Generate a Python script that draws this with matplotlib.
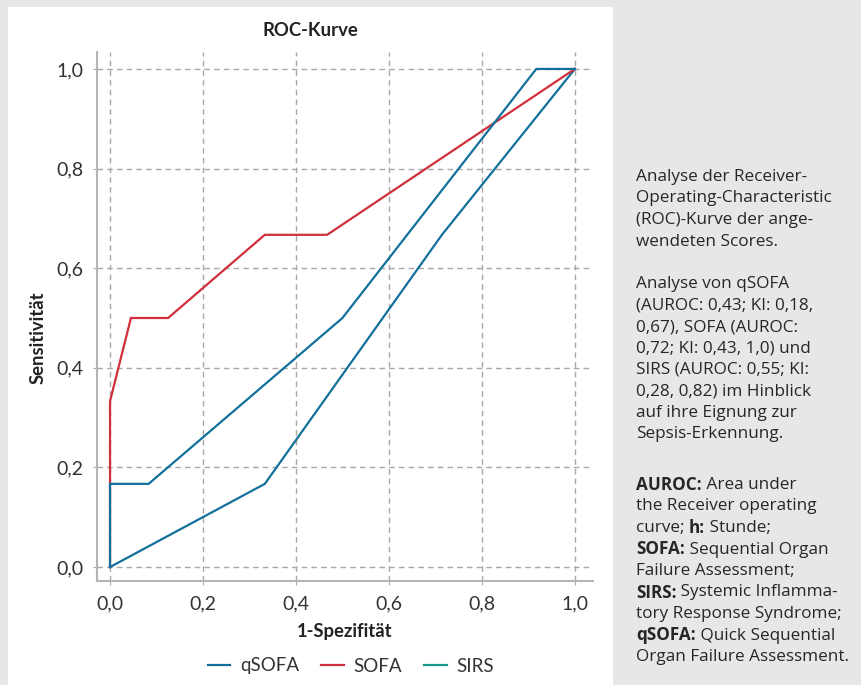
import matplotlib
matplotlib.use("Agg")
import matplotlib.pyplot as plt
from matplotlib.patches import Rectangle
from matplotlib.lines import Line2D
from matplotlib.ticker import FuncFormatter
from matplotlib.transforms import IdentityTransform

plt.rcParams['font.family'] = ['Lato', 'DejaVu Sans']

# ROC curves (1-Spezifitaet, Sensitivitaet)
qsofa_x = [0.0, 0.333, 0.714, 1.0]
qsofa_y = [0.0, 0.167, 0.667, 1.0]
sofa_x = [0.0, 0.0, 0.045, 0.125, 0.333, 0.467, 1.0]
sofa_y = [0.0, 0.333, 0.5, 0.5, 0.667, 0.667, 1.0]
sirs_x = [0.0, 0.0, 0.083, 0.5, 0.917, 1.0]
sirs_y = [0.0, 0.167, 0.167, 0.5, 1.0, 1.0]

series_names = ['qSOFA', 'SOFA', 'SIRS']
line_colors = ['#13709c', '#d12f3b', '#13709c']
legend_colors = ['#13709c', '#d12f3b', '#17998a']
ticks = [0.0, 0.2, 0.4, 0.6, 0.8, 1.0]

caption = [
    [[("Analyse der Receiver-", False)],
     [("Operating-Characteristic", False)],
     [("(ROC)-Kurve der ange-", False)],
     [("wendeten Scores.", False)]],
    [[("Analyse von qSOFA", False)],
     [("(AUROC: 0,43; KI: 0,18,", False)],
     [("0,67), SOFA (AUROC:", False)],
     [("0,72; KI: 0,43, 1,0) und", False)],
     [("SIRS (AUROC: 0,55; KI:", False)],
     [("0,28, 0,82) im Hinblick", False)],
     [("auf ihre Eignung zur", False)],
     [("Sepsis-Erkennung.", False)]],
    [[("AUROC:", True), (" Area under", False)],
     [("the Receiver operating", False)],
     [("curve; ", False), ("h:", True), (" Stunde;", False)],
     [("SOFA:", True), (" Sequential Organ", False)],
     [("Failure Assessment;", False)],
     [("SIRS:", True), (" Systemic Inflamma-", False)],
     [("tory Response Syndrome;", False)],
     [("qSOFA:", True), (" Quick Sequential", False)],
     [("Organ Failure Assessment.", False)]],
]

W, H = 862, 685
fig = plt.figure(figsize=(W / 100, H / 100), dpi=100)
fig.patch.set_facecolor('#e6e7e8')
fig.patches.append(Rectangle((8 / W, 0), 605 / W, 678 / H, transform=fig.transFigure,
                             facecolor='white', edgecolor='none', zorder=-5))

ax = fig.add_axes([97 / W, 104 / H, 496 / W, 529 / H])
ax.set_facecolor('none')

for xs, ys, c in zip([qsofa_x, sofa_x, sirs_x], [qsofa_y, sofa_y, sirs_y], line_colors):
    ax.plot(xs, ys, color=c, lw=1.6, solid_joinstyle='miter', zorder=3)

ax.set_xlim(-0.028, 1.039)
ax.set_ylim(-0.028, 1.034)
ax.set_xticks(ticks)
ax.set_yticks(ticks)
fmt = FuncFormatter(lambda v, p: ("%.1f" % v).replace('.', ','))
ax.xaxis.set_major_formatter(fmt)
ax.yaxis.set_major_formatter(fmt)
ax.grid(True, color='#a8a8a8', lw=1.0, ls=(0, (4, 3)))
for s in ['top', 'right']:
    ax.spines[s].set_visible(False)
for s in ['left', 'bottom']:
    ax.spines[s].set_color('#b5b5b5')
    ax.spines[s].set_linewidth(1.5)
ax.tick_params(length=3, color='#a8a8a8', labelsize=14, labelcolor='#333333', pad=7)

fig.text(310 / W, 1 - 30 / H, "ROC-Kurve", ha='center', va='center', fontsize=13.3,
         fontweight='bold', color='#222222')
fig.text(345 / W, 1 - 632 / H, "1-Spezifität", ha='center', va='center', fontsize=13.3,
         fontweight='bold', color='#222222')
fig.text(38 / W, 1 - 338 / H, "Sensitivität", ha='center', va='center', rotation=90,
         fontsize=13.3, fontweight='bold', color='#222222')

handles = [Line2D([], [], color=c, lw=1.6) for c in legend_colors]
fig.legend(handles, series_names, loc='center', bbox_to_anchor=(351 / W, 1 - 666 / H),
           ncol=3, frameon=False, fontsize=13.5, handlelength=1.2, columnspacing=1.2,
           handletextpad=0.5, labelcolor='#333333')

# caption on the right, bold and normal pieces placed one after another
renderer = fig.canvas.get_renderer()
para_start = [177, 284, 485]
step = 21.5
for start, para in zip(para_start, caption):
    for i, segs in enumerate(para):
        y = H - (start + i * step)
        x = 636
        for txt, bold in segs:
            t = fig.text(x, y, txt, ha='left', va='center', fontsize=12.3, color='#262626',
                         family=['Open Sans', 'DejaVu Sans'],
                         fontweight='bold' if bold else 'normal',
                         transform=IdentityTransform())
            x = t.get_window_extent(renderer).x1

fig.savefig('out.png', dpi=100, facecolor=fig.get_facecolor())
